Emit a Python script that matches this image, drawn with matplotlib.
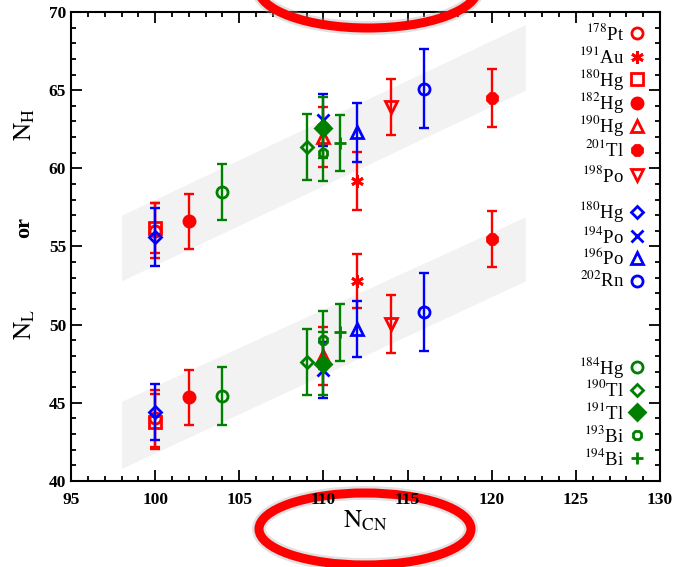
"""
Heavy / light fragment neutron numbers vs. compound-nucleus neutron number.
Writes out.png
"""

import matplotlib

matplotlib.use("Agg")
import matplotlib.pyplot as plt
from matplotlib.patches import Ellipse

plt.rcParams["font.family"] = ["Liberation Serif", "DejaVu Serif"]
plt.rcParams["mathtext.fontset"] = "stix"

# systematics bands (N_CN range, lower / upper edge)
band_x = [98, 122]
band_h_lo = [52.8, 65.0]
band_h_hi = [57.0, 69.2]
band_l_lo = [40.8, 52.8]
band_l_hi = [45.1, 56.9]

# red group
red_labels = ["178Pt", "191Au", "180Hg", "182Hg", "190Hg", "201Tl", "198Po"]
red_ncn = [100, 112, 100, 102, 110, 120, 114]
red_nh = [56.0, 59.2, 56.2, 56.6, 62.0, 64.5, 63.9]
red_nh_err = [1.75, 1.85, 1.6, 1.75, 1.9, 1.85, 1.8]
red_nl = [44.0, 52.8, 43.8, 45.35, 48.0, 55.5, 50.05]
red_nl_err = [1.8, 1.75, 1.75, 1.75, 1.85, 1.8, 1.85]

# blue group
blue_labels = ["180Hg", "194Po", "196Po", "202Rn"]
blue_ncn = [100, 110, 112, 116]
blue_nh = [55.6, 63.1, 62.3, 65.1]
blue_nh_err = [1.85, 1.65, 1.9, 2.5]
blue_nl = [44.4, 47.1, 49.7, 50.8]
blue_nl_err = [1.8, 1.8, 1.8, 2.5]

# green group
green_labels = ["184Hg", "190Tl", "191Tl", "193Bi", "194Bi"]
green_ncn = [104, 109, 110, 110, 111]
green_nh = [58.5, 61.35, 62.6, 61.0, 61.6]
green_nh_err = [1.8, 2.1, 1.95, 1.8, 1.8]
green_nl = [45.45, 47.6, 47.5, 49.0, 49.5]
green_nl_err = [1.85, 2.1, 2.0, 1.85, 1.85]

x_ticks = [95, 100, 105, 110, 115, 120, 125, 130]
y_ticks = [40, 45, 50, 55, 60, 65, 70]

# marker style per nucleus: (marker, filled)
red_styles = [("o", False), ((6, 2, 0), True), ("s", False), ("o", True),
              ("^", False), ("8", True), ("v", False)]
blue_styles = [("D", False), ("x", True), ("^", False), ("o", False)]
green_styles = [("o", False), ("D", False), ("D", True), ("8", False), ("+", True)]


def nuc_label(s):
    mass = "".join(c for c in s if c.isdigit())
    sym = "".join(c for c in s if c.isalpha())
    return r"$^{" + mass + r"}$" + sym


def marker_size(mk, filled):
    if mk in ("D", "8") and not filled:
        return 6.5
    if mk == (6, 2, 0):
        return 9
    if mk in ("x", "+"):
        return 8
    return 8


def draw_group(ax, color, ncn, nh, nh_err, nl, nl_err, styles):
    for i in range(len(ncn)):
        mk, filled = styles[i]
        kw = dict(
            fmt="none", ecolor=color, elinewidth=1.7, capsize=3.6, capthick=1.7
        )
        ax.errorbar([ncn[i]], [nh[i]], yerr=[nh_err[i]], **kw)
        ax.errorbar([ncn[i]], [nl[i]], yerr=[nl_err[i]], **kw)
        ax.plot(
            [ncn[i], ncn[i]], [nh[i], nl[i]], linestyle="none", marker=mk,
            ms=marker_size(mk, filled), mew=2.0, mec=color,
            mfc=color if filled else "none",
        )


def draw_key(ax, color, labels, styles, ys):
    for lab, (mk, filled), y in zip(labels, styles, ys):
        ax.plot([0.961], [y], transform=ax.transAxes, linestyle="none", marker=mk,
                ms=marker_size(mk, filled), mew=2.0, mec=color,
                mfc=color if filled else "none", clip_on=False)
        ax.text(0.939, y, nuc_label(lab), transform=ax.transAxes, ha="right",
                va="center", fontsize=13.5)


fig = plt.figure(figsize=(6.79, 5.67), dpi=100)
ax = fig.add_axes([0.1046, 0.1517, 0.8675, 0.8272])

ax.fill_between(band_x, band_h_lo, band_h_hi, color="#f2f2f2", lw=0, zorder=0)
ax.fill_between(band_x, band_l_lo, band_l_hi, color="#f2f2f2", lw=0, zorder=0)

draw_group(ax, "red", red_ncn, red_nh, red_nh_err, red_nl, red_nl_err, red_styles)
draw_group(ax, "blue", blue_ncn, blue_nh, blue_nh_err, blue_nl, blue_nl_err, blue_styles)
draw_group(ax, "green", green_ncn, green_nh, green_nh_err, green_nl, green_nl_err,
           green_styles)

draw_key(ax, "red", red_labels, red_styles,
         [0.955, 0.904, 0.857, 0.806, 0.757, 0.706, 0.652])
draw_key(ax, "blue", blue_labels, blue_styles, [0.574, 0.522, 0.475, 0.426])
draw_key(ax, "green", green_labels, green_styles, [0.243, 0.194, 0.147, 0.098, 0.049])

ax.set_xlim(95, 130)
ax.set_ylim(40, 70)
ax.set_xticks(x_ticks)
ax.set_yticks(y_ticks)
ax.set_xticks(range(95, 131), minor=True)
ax.set_yticks(range(40, 71), minor=True)
ax.tick_params(which="both", direction="in", top=True, right=True, width=1.3,
               labelsize=12.5)
ax.tick_params(axis="x", which="major", pad=8)
ax.tick_params(which="major", length=8)
ax.tick_params(which="minor", length=3.8)
for lab in ax.get_xticklabels() + ax.get_yticklabels():
    lab.set_fontweight("bold")
for sp in ax.spines.values():
    sp.set_linewidth(1.5)

# axis titles
fig.text(0.5376, 0.082, r"$\mathrm{N_{CN}}$", ha="center", va="center", fontsize=18)
fig.text(0.036, 1 - 125 / 567, r"$\mathrm{N_H}$", rotation=90, ha="center",
         va="center", fontsize=18)
fig.text(0.036, 1 - 228 / 567, "or", rotation=90, ha="center", va="center",
         fontsize=16, fontweight="bold")
fig.text(0.036, 1 - 325 / 567, r"$\mathrm{N_L}$", rotation=90, ha="center",
         va="center", fontsize=18)

# red highlight rings drawn over the figure (bottom one sits under tick labels)
for cx, cy, w, h, z in [(365, 529, 212, 72, -1), (368, -12, 220, 80, 5)]:
    fig.add_artist(Ellipse((cx / 679, 1 - cy / 567), w / 679, h / 567,
                           transform=fig.transFigure, fill=False,
                           edgecolor="#aaaaaa", lw=10, alpha=0.35, zorder=z))
    fig.add_artist(Ellipse((cx / 679, 1 - cy / 567), w / 679, h / 567,
                           transform=fig.transFigure, fill=False,
                           edgecolor="#ff0000", lw=6.5, zorder=z))

fig.savefig("out.png", dpi=100)
